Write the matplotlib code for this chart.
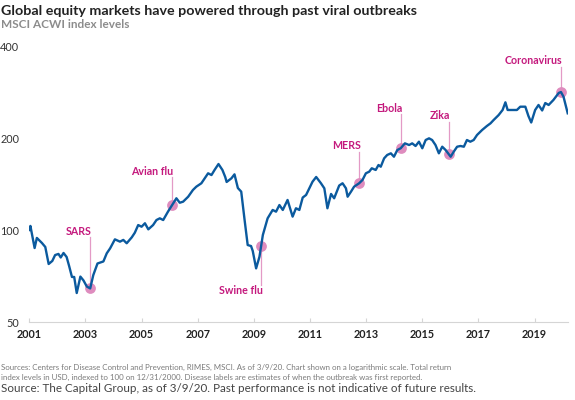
import numpy as np
import matplotlib
matplotlib.use("Agg")
import matplotlib.pyplot as plt

plt.rcParams["font.family"] = ["Lato", "DejaVu Sans"]

# MSCI ACWI total return index (12/31/2000 = 100), decimal years
dates = [
    2001.00, 2001.04, 2001.19, 2001.27, 2001.45, 2001.57, 2001.69, 2001.82, 2001.92,
    2002.04, 2002.12, 2002.22, 2002.33, 2002.42, 2002.52, 2002.60, 2002.69, 2002.82, 2002.93,
    2003.05, 2003.17, 2003.28, 2003.43, 2003.64, 2003.76, 2003.88,
    2004.05, 2004.23, 2004.35, 2004.47, 2004.65, 2004.76, 2004.88,
    2005.00, 2005.12, 2005.24, 2005.41, 2005.53, 2005.65, 2005.77, 2005.94,
    2006.09, 2006.24, 2006.36, 2006.48, 2006.66, 2006.83, 2006.95,
    2007.13, 2007.25, 2007.37, 2007.49, 2007.60, 2007.74, 2007.88, 2007.98,
    2008.03, 2008.20, 2008.31, 2008.43, 2008.55, 2008.67, 2008.78, 2008.90, 2008.96,
    2009.08, 2009.20, 2009.32, 2009.49, 2009.67, 2009.79, 2009.91,
    2010.03, 2010.20, 2010.38, 2010.50, 2010.62, 2010.74, 2010.86, 2010.98,
    2011.09, 2011.22, 2011.39, 2011.51, 2011.62, 2011.75, 2011.86,
    2012.04, 2012.16, 2012.28, 2012.34, 2012.46, 2012.57, 2012.75, 2012.87, 2012.99,
    2013.11, 2013.20, 2013.34, 2013.44, 2013.52, 2013.64, 2013.75, 2013.88, 2013.99,
    2014.11, 2014.23, 2014.38, 2014.53, 2014.64, 2014.76, 2014.88,
    2015.00, 2015.12, 2015.24, 2015.35, 2015.47, 2015.59, 2015.71, 2015.83,
    2016.01, 2016.12, 2016.24, 2016.36, 2016.48, 2016.59, 2016.71, 2016.83, 2016.95,
    2017.13, 2017.30, 2017.43, 2017.54, 2017.72, 2017.86, 2017.96,
    2018.04, 2018.19, 2018.37, 2018.49, 2018.67, 2018.78, 2018.88,
    2019.02, 2019.14, 2019.27, 2019.38, 2019.50, 2019.67, 2019.86, 2019.94,
    2020.03, 2020.18,
]
levels = [
    100.0, 103.1, 87.3, 94.2, 90.7, 88.0, 77.4, 79.2, 82.8,
    83.5, 81.3, 84.1, 81.6, 76.2, 70.2, 70.2, 62.2, 70.4, 68.4,
    65.3, 64.4, 71.2, 77.7, 78.9, 83.9, 87.1,
    93.2, 91.6, 92.8, 90.5, 94.6, 98.0, 103.8,
    102.5, 105.2, 100.5, 103.8, 107.8, 109.2, 107.8, 114.8,
    120.7, 127.0, 122.8, 123.8, 128.5, 135.2, 138.6,
    142.2, 147.6, 153.3, 151.3, 157.2, 164.4, 157.2, 149.1,
    143.6, 147.6, 152.1, 137.2, 133.5, 107.8, 89.3, 88.6, 85.4,
    74.9, 81.8, 96.3, 109.2, 116.3, 114.8, 120.7,
    116.3, 125.4, 110.6, 117.8, 116.3, 127.7, 130.2, 137.2,
    143.9, 149.1, 142.2, 136.9, 117.8, 131.2, 127.0,
    139.8, 142.2, 136.9, 128.5, 133.5, 138.6, 142.2, 145.8, 153.3,
    155.2, 159.2, 157.2, 163.2, 161.1, 171.6, 176.0, 178.2, 173.7,
    182.7, 185.1, 192.1, 189.7, 192.1, 188.3, 194.5,
    185.1, 197.0, 199.5, 197.0, 189.7, 178.2, 187.3, 182.7,
    173.7, 180.4, 187.3, 188.3, 187.3, 197.0, 194.5, 197.0, 204.6,
    212.4, 218.9, 223.4, 229.0, 237.8, 247.0, 261.7,
    247.0, 247.0, 247.0, 253.2, 253.2, 236.1, 224.8,
    247.0, 256.5, 246.1, 260.3, 256.5, 266.3, 280.8, 282.8,
    273.0, 240.9,
]

# outbreaks: first reported date and where the label stem ends (index level)
event_names = ["SARS", "Avian flu", "Swine flu", "MERS", "Ebola", "Zika", "Coronavirus"]
event_dates = [2003.17, 2006.09, 2009.26, 2012.75, 2014.23, 2015.95, 2019.94]
stem_ends = [94.9, 148.7, 66.1, 180.4, 239.6, 226.2, 342.2]

year_ticks = list(range(2001, 2020, 2))
level_ticks = [50, 100, 200, 400]

line_color = "#0B5A9E"
label_color = "#C4197D"
dot_color = "#DE8CBE"
stem_color = "#E39AC6"

fig = plt.figure(figsize=(5.75, 4), dpi=100)
ax = fig.add_axes([29 / 575, 1 - 322 / 400, (568 - 29) / 575, (322 - 46) / 400])

ax.plot(dates, levels, color=line_color, lw=1.7, zorder=3, solid_joinstyle="round")

# dots sit on the line, value taken from the series in log space
ev_levels = np.exp(np.interp(event_dates, dates, np.log(levels)))
ax.scatter(event_dates, ev_levels, s=60, color=dot_color, zorder=2, linewidths=0)

for name, d, v, top in zip(event_names, event_dates, ev_levels, stem_ends):
    ax.plot([d, d], [v, top], color=stem_color, lw=0.9, zorder=1)
    up = top > v
    ax.annotate(name, (d, top), xytext=(1, 4.2 if up else -4.2), textcoords="offset points",
                ha="right", va="center", color=label_color, fontsize=7.7, fontweight="bold")

ax.set_yscale("log")
ax.set_ylim(50, 400)
ax.set_xlim(2000.99, 2020.19)
ax.set_yticks(level_ticks)
ax.set_yticklabels([str(t) for t in level_ticks])
ax.yaxis.set_minor_locator(matplotlib.ticker.NullLocator())
ax.set_xticks(year_ticks)
ax.set_xticklabels([str(y) for y in year_ticks], fontweight="bold")

for s in ["top", "right", "left"]:
    ax.spines[s].set_visible(False)
ax.spines["bottom"].set_color("#D5D5D5")
ax.spines["bottom"].set_linewidth(0.8)
ax.tick_params(axis="x", direction="in", length=3, color="#D5D5D5", pad=5,
               labelsize=7.8, labelcolor="#222222")
ax.tick_params(axis="y", length=0, pad=7, labelsize=7.8, labelcolor="#333333")

fig.text(0.002, 1 - 11 / 400, "Global equity markets have powered through past viral outbreaks",
         fontsize=10.3, fontweight="bold", color="#222222", va="center")
fig.text(0.002, 1 - 25 / 400, "MSCI ACWI index levels",
         fontsize=8.5, fontweight="bold", color="#8C8C8C", va="center")

fig.text(0.002, 1 - 367 / 400,
         "Sources: Centers for Disease Control and Prevention, RIMES, MSCI. As of 3/9/20. "
         "Chart shown on a logarithmic scale. Total return",
         fontsize=5.7, color="#7A7A7A", va="center")
fig.text(0.002, 1 - 377 / 400,
         "index levels in USD, indexed to 100 on 12/31/2000. Disease labels are estimates "
         "of when the outbreak was first reported.",
         fontsize=5.7, color="#7A7A7A", va="center")
fig.text(0.002, 1 - 388 / 400,
         "Source: The Capital Group, as of 3/9/20. Past performance is not indicative of future results.",
         fontsize=8.4, color="#444444", va="center")

fig.savefig("out.png", dpi=100)
